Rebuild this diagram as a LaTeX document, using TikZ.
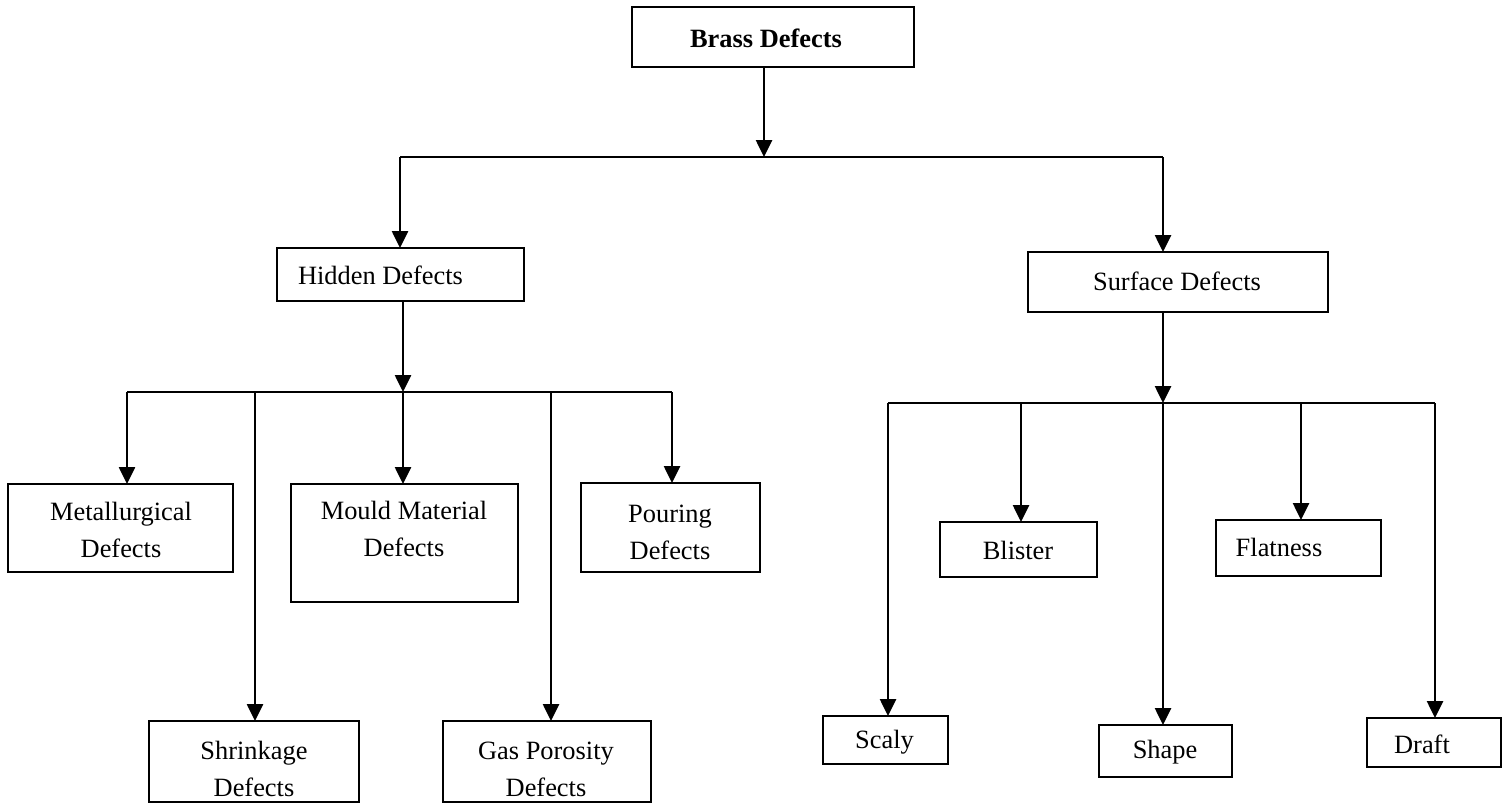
\documentclass[tikz,border=0pt]{standalone}
\usepackage{fontspec}
\setmainfont{Liberation Serif}
\usetikzlibrary{arrows.meta}
\begin{document}
\begin{tikzpicture}[x=0.5pt,y=-0.5pt,
  box/.style={draw, line width=1.25pt, inner sep=0pt, outer sep=0pt},
  lbl/.style={inner sep=0pt, align=center, font=\fontsize{13.2}{18.5}\selectfont},
  ln/.style={line width=1.3pt},
  arr/.style={line width=1.3pt, -{Triangle[width=8pt,length=8.5pt]}}]
\useasboundingbox (0,0) rectangle (1506,804);
% boxes
\node[box, minimum width=141pt, minimum height=30pt] (brass) at (773,37) {};
\node[box, minimum width=123.5pt, minimum height=26.5pt] (hidden) at (400.5,274.5) {};
\node[box, minimum width=150pt, minimum height=30pt] (surface) at (1178,282) {};
\node[box, minimum width=112.5pt, minimum height=44pt] (metal) at (120.5,528) {};
\node[box, minimum width=113.5pt, minimum height=59pt] (mould) at (404.5,543) {};
\node[box, minimum width=89.5pt, minimum height=44.5pt] (pour) at (670.5,527.5) {};
\node[box, minimum width=105pt, minimum height=40.5pt] (shrink) at (254,761.5) {};
\node[box, minimum width=104pt, minimum height=40.5pt] (gas) at (547,761.5) {};
\node[box, minimum width=78.5pt, minimum height=27.5pt] (blister) at (1018.5,549.5) {};
\node[box, minimum width=82.5pt, minimum height=28pt] (flat) at (1298.5,548) {};
\node[box, minimum width=62.5pt, minimum height=24pt] (scaly) at (885.5,740) {};
\node[box, minimum width=66.5pt, minimum height=26pt] (shape) at (1165.5,751) {};
\node[box, minimum width=67pt, minimum height=24.5pt] (draft) at (1434,742.5) {};
% labels
\node[lbl, font=\fontsize{13.2}{18.5}\selectfont\bfseries] (brasst) at (766,38) {Brass Defects};
\node[lbl] (hiddent) at (380.5,275) {Hidden Defects};
\node[lbl] (surfacet) at (1177,281) {Surface Defects};
\node[lbl] (metalt) at (121,530) {Metallurgical\\Defects};
\node[lbl] (mouldt) at (404,529) {Mould Material\\Defects};
\node[lbl] (pourt) at (670,532) {Pouring\\Defects};
\node[lbl] (shrinkt) at (254,769) {Shrinkage\\Defects};
\node[lbl] (gast) at (546,769) {Gas Porosity\\Defects};
\node[lbl] (blistert) at (1018,550) {Blister};
\node[lbl] (flatt) at (1279,547) {Flatness};
\node[lbl] (scalyt) at (884.5,742) {Scaly};
\node[lbl] (shapet) at (1165,752) {Shape};
\node[lbl] (draftt) at (1422,744) {Draft};
% connector coordinates
\coordinate (t0) at (764,157);
\coordinate (tl) at (400,157);
\coordinate (tr) at (1163,157);
\coordinate (h0) at (403,392);
\coordinate (hl) at (127,392);
\coordinate (h1) at (255,392);
\coordinate (h3) at (551,392);
\coordinate (hr) at (672,392);
\coordinate (s0) at (1163,403);
\coordinate (sl) at (888,403);
\coordinate (s1) at (1021,403);
\coordinate (s3) at (1301,403);
\coordinate (sr) at (1435,403);
% top level
\draw[arr] (t0 |- brass.south) -- (t0);
\draw[ln] (tl) -- (tr);
\draw[arr] (tl) -- (tl |- hidden.north);
\draw[arr] (tr) -- (tr |- surface.north);
% hidden branch
\draw[arr] (h0 |- hidden.south) -- (h0);
\draw[ln] (hl) -- (hr);
\draw[arr] (hl) -- (hl |- metal.north);
\draw[arr] (h1) -- (h1 |- shrink.north);
\draw[arr] (h0) -- (h0 |- mould.north);
\draw[arr] (h3) -- (h3 |- gas.north);
\draw[arr] (hr) -- (hr |- pour.north);
% surface branch
\draw[arr] (s0 |- surface.south) -- (s0);
\draw[ln] (sl) -- (sr);
\draw[arr] (sl) -- (sl |- scaly.north);
\draw[arr] (s1) -- (s1 |- blister.north);
\draw[arr] (s0) -- (s0 |- shape.north);
\draw[arr] (s3) -- (s3 |- flat.north);
\draw[arr] (sr) -- (sr |- draft.north);
\end{tikzpicture}
\end{document}
